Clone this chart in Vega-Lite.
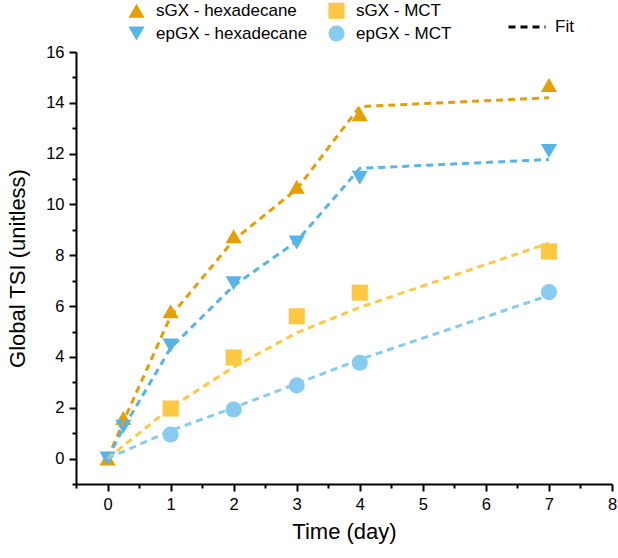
{
  "$schema": "https://vega.github.io/schema/vega-lite/v6.json",
  "width": 536,
  "height": 432,
  "autosize": "none",
  "padding": {"left": 76, "top": 52, "right": 6, "bottom": 74},
  "config": {
    "view": {"stroke": null},
    "font": "Liberation Sans",
    "axis": {
      "grid": false,
      "domainColor": "black",
      "domainWidth": 2,
      "tickColor": "black",
      "tickWidth": 2,
      "labelColor": "black",
      "labelFont": "Liberation Sans",
      "labelFontSize": 16.5,
      "titleFont": "Liberation Sans",
      "titleFontSize": 22,
      "titleFontWeight": "normal",
      "titleColor": "black"
    },
    "legend": {
      "labelFont": "Liberation Sans",
      "labelFontSize": 17,
      "labelColor": "black",
      "padding": 0
    }
  },
  "datasets": {
    "measured": [
      {"series": "epGX - MCT", "day": 1, "tsi": 0.95},
      {"series": "epGX - MCT", "day": 2, "tsi": 1.93},
      {"series": "epGX - MCT", "day": 3, "tsi": 2.88},
      {"series": "epGX - MCT", "day": 4, "tsi": 3.77},
      {"series": "epGX - MCT", "day": 7, "tsi": 6.55},
      {"series": "sGX - MCT", "day": 1, "tsi": 1.97},
      {"series": "sGX - MCT", "day": 2, "tsi": 3.98},
      {"series": "sGX - MCT", "day": 3, "tsi": 5.6},
      {"series": "sGX - MCT", "day": 4, "tsi": 6.53},
      {"series": "sGX - MCT", "day": 7, "tsi": 8.15},
      {"series": "sGX - hexadecane", "day": 0, "tsi": 0},
      {"series": "sGX - hexadecane", "day": 0.25, "tsi": 1.6},
      {"series": "sGX - hexadecane", "day": 1, "tsi": 5.8},
      {"series": "sGX - hexadecane", "day": 2, "tsi": 8.75},
      {"series": "sGX - hexadecane", "day": 3, "tsi": 10.7},
      {"series": "sGX - hexadecane", "day": 4, "tsi": 13.55},
      {"series": "sGX - hexadecane", "day": 7, "tsi": 14.7},
      {"series": "epGX - hexadecane", "day": 0, "tsi": 0},
      {"series": "epGX - hexadecane", "day": 0.25, "tsi": 1.25},
      {"series": "epGX - hexadecane", "day": 1, "tsi": 4.45},
      {"series": "epGX - hexadecane", "day": 2, "tsi": 6.9},
      {"series": "epGX - hexadecane", "day": 3, "tsi": 8.5},
      {"series": "epGX - hexadecane", "day": 4, "tsi": 11.05},
      {"series": "epGX - hexadecane", "day": 7, "tsi": 12.1}
    ],
    "fitted": [
      {"series": "sGX - hexadecane", "kind": "Fit", "day": 0, "tsi": 0},
      {"series": "sGX - hexadecane", "kind": "Fit", "day": 0.25, "tsi": 1.45},
      {"series": "sGX - hexadecane", "kind": "Fit", "day": 1, "tsi": 5.6},
      {"series": "sGX - hexadecane", "kind": "Fit", "day": 2, "tsi": 8.6},
      {"series": "sGX - hexadecane", "kind": "Fit", "day": 3, "tsi": 10.6},
      {"series": "sGX - hexadecane", "kind": "Fit", "day": 4, "tsi": 13.85},
      {"series": "sGX - hexadecane", "kind": "Fit", "day": 7, "tsi": 14.2},
      {"series": "epGX - hexadecane", "kind": "Fit", "day": 0, "tsi": 0},
      {"series": "epGX - hexadecane", "kind": "Fit", "day": 0.25, "tsi": 1.2},
      {"series": "epGX - hexadecane", "kind": "Fit", "day": 1, "tsi": 4.35},
      {"series": "epGX - hexadecane", "kind": "Fit", "day": 2, "tsi": 6.8},
      {"series": "epGX - hexadecane", "kind": "Fit", "day": 3, "tsi": 8.55},
      {"series": "epGX - hexadecane", "kind": "Fit", "day": 4, "tsi": 11.42},
      {"series": "epGX - hexadecane", "kind": "Fit", "day": 7, "tsi": 11.77},
      {"series": "sGX - MCT", "kind": "Fit", "day": 0, "tsi": 0},
      {"series": "sGX - MCT", "kind": "Fit", "day": 1, "tsi": 2.0},
      {"series": "sGX - MCT", "kind": "Fit", "day": 2, "tsi": 3.6},
      {"series": "sGX - MCT", "kind": "Fit", "day": 3, "tsi": 4.95},
      {"series": "sGX - MCT", "kind": "Fit", "day": 4, "tsi": 5.95},
      {"series": "sGX - MCT", "kind": "Fit", "day": 7, "tsi": 8.48},
      {"series": "epGX - MCT", "kind": "Fit", "day": 0, "tsi": 0},
      {"series": "epGX - MCT", "kind": "Fit", "day": 1, "tsi": 1.1},
      {"series": "epGX - MCT", "kind": "Fit", "day": 2, "tsi": 2.0},
      {"series": "epGX - MCT", "kind": "Fit", "day": 3, "tsi": 2.95},
      {"series": "epGX - MCT", "kind": "Fit", "day": 4, "tsi": 3.9},
      {"series": "epGX - MCT", "kind": "Fit", "day": 7, "tsi": 6.42}
    ]
  },
  "layer": [
    {
      "data": {"name": "measured"},
      "mark": {"type": "point", "filled": true, "opacity": 1, "strokeWidth": 0},
      "encoding": {
        "x": {
          "field": "day", "type": "quantitative",
          "scale": {"domain": [-0.5, 8], "nice": false, "zero": false},
          "axis": {
            "orient": "bottom", "title": "Time (day)",
            "values": [0, 1, 2, 3, 4, 5, 6, 7, 8],
            "tickSize": 7, "labelPadding": 5, "titlePadding": 9,
            "labelFlush": false, "labelOverlap": false
          }
        },
        "y": {
          "field": "tsi", "type": "quantitative",
          "scale": {"domain": [-1, 16], "nice": false, "zero": false},
          "axis": {
            "orient": "left", "title": "Global TSI (unitless)",
            "values": [0, 2, 4, 6, 8, 10, 12, 14, 16],
            "tickSize": 7, "labelPadding": 5, "titlePadding": 16,
            "labelFlush": false, "labelOverlap": false
          }
        },
        "color": {
          "field": "series", "type": "nominal",
          "scale": {
            "domain": ["sGX - hexadecane", "epGX - hexadecane", "sGX - MCT", "epGX - MCT"],
            "range": ["#E69F00", "#56B4E9", "#FFC843", "#87CBF0"]
          },
          "legend": {
            "orient": "none", "legendX": 52, "legendY": -50,
            "columns": 2, "title": null, "symbolSize": 230,
            "labelFontSize": 17, "labelFont": "Liberation Sans",
            "labelOffset": 11, "rowPadding": 5, "columnPadding": 20,
            "symbolStrokeWidth": 0
          }
        },
        "shape": {
          "field": "series", "type": "nominal",
          "scale": {
            "domain": ["sGX - hexadecane", "epGX - hexadecane", "sGX - MCT", "epGX - MCT"],
            "range": ["triangle-up", "triangle-down", "square", "circle"]
          },
          "legend": {
            "orient": "none", "legendX": 52, "legendY": -50,
            "columns": 2, "title": null, "symbolSize": 230,
            "labelFontSize": 17, "labelFont": "Liberation Sans",
            "labelOffset": 11, "rowPadding": 5, "columnPadding": 20,
            "symbolStrokeWidth": 0
          }
        },
        "size": {
          "field": "series", "type": "nominal",
          "scale": {
            "domain": ["sGX - hexadecane", "epGX - hexadecane", "sGX - MCT", "epGX - MCT"],
            "range": [260, 260, 160, 190]
          },
          "legend": null
        }
      }
    },
    {
      "data": {"name": "fitted"},
      "mark": {"type": "line", "strokeWidth": 3},
      "encoding": {
        "x": {
          "field": "day", "type": "quantitative",
          "axis": {
            "orient": "bottom", "title": null, "labels": false, "domain": false,
            "values": [-0.5, 0.5, 1.5, 2.5, 3.5, 4.5, 5.5, 6.5, 7.5],
            "tickSize": 4
          }
        },
        "y": {
          "field": "tsi", "type": "quantitative",
          "axis": {
            "orient": "left", "title": null, "labels": false, "domain": false,
            "values": [-1, 1, 3, 5, 7, 9, 11, 13, 15],
            "tickSize": 4
          }
        },
        "color": {"field": "series", "type": "nominal", "legend": null},
        "detail": {"field": "series"},
        "strokeDash": {
          "field": "kind", "type": "nominal",
          "scale": {"domain": ["Fit"], "range": [[7, 5]]},
          "legend": {
            "orient": "none", "legendX": 431, "legendY": -45,
            "title": null, "symbolType": "stroke", "symbolSize": 1369,
            "symbolStrokeColor": "black", "symbolStrokeWidth": 3,
            "labelFontSize": 17, "labelFont": "Liberation Sans",
            "labelOffset": 8
          }
        }
      }
    }
  ],
  "resolve": {"axis": {"x": "independent", "y": "independent"}}
}
